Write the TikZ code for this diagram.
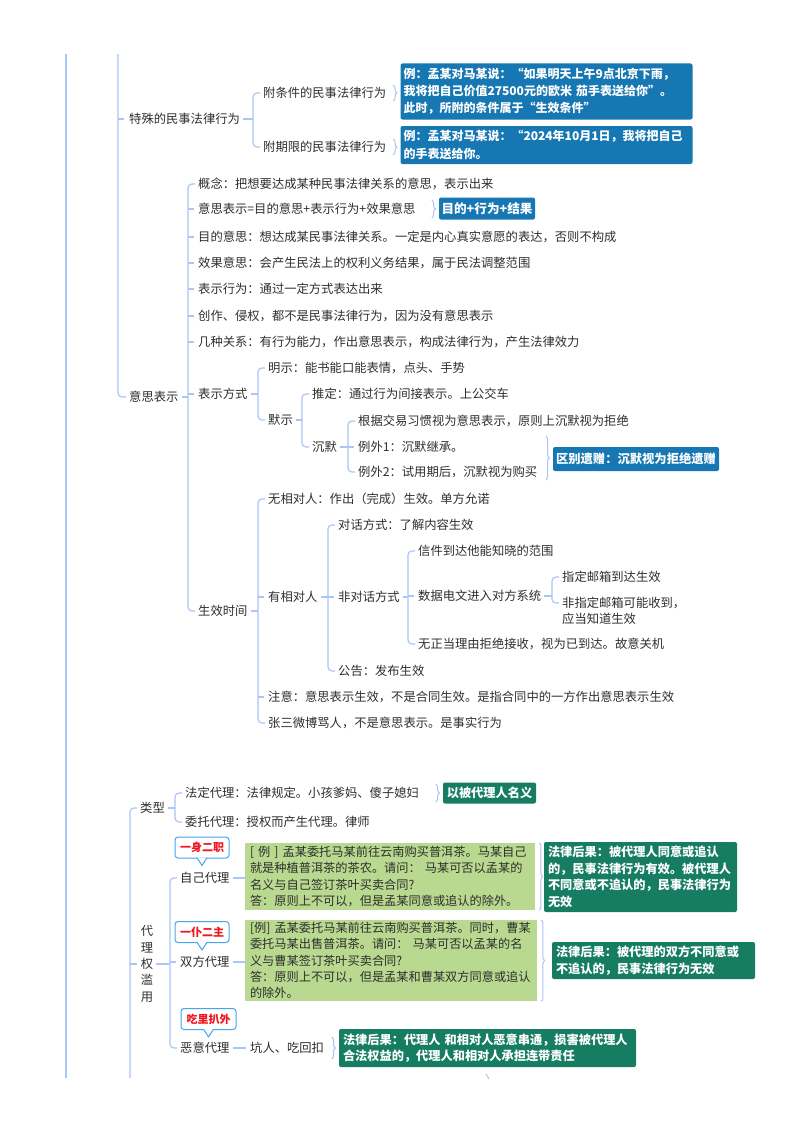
\documentclass[tikz,border=0pt]{standalone}
\usepackage{fontspec}
\setmainfont{Noto Sans CJK SC}
\usetikzlibrary{calc,decorations.pathreplacing}
\definecolor{lnc}{HTML}{A9C6F7}
\definecolor{tc}{HTML}{2E2E2E}
\definecolor{bbx}{HTML}{1677B3}
\definecolor{dgr}{HTML}{167D63}
\definecolor{lgr}{HTML}{B8D98F}
\definecolor{cob}{HTML}{45A6F0}
\definecolor{cred}{HTML}{F0141E}
\newcommand{\mybrk}[3]{%
  \draw[tree,rounded corners=4pt] ($(#1.west)+(-3,0)$) -- ($(#1.west)+(-10,0)$) -- ($(#2.west)+(-10,0)$) -- ($(#2.west)+(-3,0)$);
  \coordinate (bxx) at ($(#1.west)+(-10,0)$);
  \draw[tree] ($(#3.east)+(3,0)$) -- (bxx |- #3.east);}
\newcommand{\mytick}[1]{\draw[tree] ($(#1.west)+(-10,0)$) -- ($(#1.west)+(-4,0)$);}
\newcommand{\mypointer}[1]{\filldraw[draw=cob, fill=white, line width=1pt, line join=round] ($(#1.south)+(-5,-0.8)$) -- ($(#1.south)+(0,7)$) -- ($(#1.south)+(5,-0.8)$);}
\begin{document}
\begin{tikzpicture}[x=1pt,y=-1pt,
  tree/.style={draw=lnc, line width=1.2pt},
  brc/.style={draw=lnc, line width=1pt, decorate, decoration={brace, amplitude=3.5pt}},
  t/.style={anchor=west, inner sep=0pt, text=tc, font=\fontsize{12.3}{16}\selectfont},
  bbox/.style={fill=bbx, text=white, font=\bfseries\fontsize{12}{17.2}\selectfont, rounded corners=2pt, align=left, inner xsep=3pt, inner ysep=0pt},
  dbox/.style={fill=dgr, text=white, font=\bfseries\fontsize{12.2}{16.6}\selectfont, rounded corners=2pt, align=left, inner xsep=4pt, inner ysep=0pt},
  gbox/.style={fill=lgr, text=tc, font=\fontsize{12.2}{16.4}\selectfont, align=left, inner xsep=5pt, inner ysep=0pt},
  callout/.style={draw=cob, line width=1pt, fill=white, rounded corners=3pt, text=cred, font=\bfseries\fontsize{11}{13}\selectfont, inner sep=0pt, minimum height=21pt},
]
\fill[white, use as bounding box] (0,0) rectangle (800,1132);

% ---------- outer lines ----------
\coordinate (o1) at (66,54);
\coordinate (o2) at (66,1078);
\draw[tree] (o1) -- (o2);

% ---------- section 1 ----------
\node[t] (s1) at (129,119) {特殊的民事法律行为};
\node[t] (s2) at (129,397) {意思表示};
\coordinate (top2) at (118,54);
\draw[tree,rounded corners=4pt] (top2) -- (top2 |- s2.west) -- ($(s2.west)+(-3,0)$);
\draw[tree] (top2 |- s1.west) -- ($(s1.west)+(-5,0)$);

\node[t] (s1a) at (263,93) {附条件的民事法律行为};
\node[t] (s1b) at (263,147) {附期限的民事法律行为};
\mybrk{s1a}{s1b}{s1}
\node[bbox, text width=286pt, minimum height=56pt] (e1) at (546.5,91.5) {例：孟某对马某说：“如果明天上午9点北京下雨，\\我将把自己价值27500元的欧米 茄手表送给你”。\\此时，所附的条件属于“生效条件”};
\node[bbox, text width=286pt, minimum height=38pt] (e2) at (546.5,145) {例：孟某对马某说：“2024年10月1日，我将把自己\\的手表送给你。};
\draw[brc] ($(e1.west |- s1a.west)+(-7,-8)$) -- ($(e1.west |- s1a.west)+(-7,8)$);
\draw[brc] ($(e2.west |- s1b.west)+(-7,-8)$) -- ($(e2.west |- s1b.west)+(-7,8)$);

% children of 意思表示
\node[t] (c1) at (198,184) {概念：把想要达成某种民事法律关系的意思，表示出来};
\node[t] (c2) at (198,209) {意思表示=目的意思+表示行为+效果意思};
\node[t] (c3) at (198,237) {目的意思：想达成某民事法律关系。一定是内心真实意愿的表达，否则不构成};
\node[t] (c4) at (198,263) {效果意思：会产生民法上的权利义务结果，属于民法调整范围};
\node[t] (c5) at (198,289) {表示行为：通过一定方式表达出来};
\node[t] (c6) at (198,316) {创作、侵权，都不是民事法律行为，因为没有意思表示};
\node[t] (c7) at (198,342) {几种关系：有行为能力，作出意思表示，构成法律行为，产生法律效力};
\node[t] (c8) at (198,394) {表示方式};
\node[t] (c9) at (198,611) {生效时间};
\mybrk{c1}{c9}{s2}
\mytick{c2}\mytick{c3}\mytick{c4}\mytick{c5}\mytick{c6}\mytick{c7}\mytick{c8}
\node[bbox, minimum width=96pt, minimum height=22pt, inner xsep=0pt, font=\bfseries\fontsize{12.6}{15}\selectfont] (mb) at (487,208.5) {目的+行为+结果};
\draw[brc] ($(mb.west |- c2.west)+(-7,-9)$) -- ($(mb.west |- c2.west)+(-7,9)$);

% 表示方式
\node[t] (m1) at (268,368) {明示：能书能口能表情，点头、手势};
\node[t] (m2) at (268,420) {默示};
\mybrk{m1}{m2}{c8}
\node[t] (d1) at (312,394) {推定：通过行为间接表示。上公交车};
\node[t] (d2) at (312,447) {沉默};
\mybrk{d1}{d2}{m2}
\node[t] (q1) at (358,421) {根据交易习惯视为意思表示，原则上沉默视为拒绝};
\node[t] (q2) at (358,447) {例外1：沉默继承。};
\node[t] (q3) at (358,472) {例外2：试用期后，沉默视为购买};
\mybrk{q1}{q3}{d2}
\mytick{q2}
\node[bbox, minimum width=166pt, minimum height=24pt, inner xsep=0pt, font=\bfseries\fontsize{12.3}{15}\selectfont] (qb) at (636,459) {区别遗赠：沉默视为拒绝遗赠};
\draw[brc] ($(qb.west)+(-7,-23)$) -- ($(qb.west)+(-7,21)$);

% 生效时间
\node[t] (f1) at (268,499) {无相对人：作出（完成）生效。单方允诺};
\node[t] (f2) at (268,597) {有相对人};
\node[t] (f3) at (268,697) {注意：意思表示生效，不是合同生效。是指合同中的一方作出意思表示生效};
\node[t] (f4) at (268,723) {张三微博骂人，不是意思表示。是事实行为};
\mybrk{f1}{f4}{c9}
\mytick{f2}\mytick{f3}
\node[t] (g1) at (338,525) {对话方式：了解内容生效};
\node[t] (g2) at (338,597) {非对话方式};
\node[t] (g3) at (338,671) {公告：发布生效};
\mybrk{g1}{g3}{f2}
\mytick{g2}
\node[t] (h1) at (418,551) {信件到达他能知晓的范围};
\node[t] (h2) at (418,596) {数据电文进入对方系统};
\node[t] (h3) at (418,644) {无正当理由拒绝接收，视为已到达。故意关机};
\mybrk{h1}{h3}{g2}
\mytick{h2}
\node[t] (k1) at (562,577) {指定邮箱到达生效};
\node[t] (k2) at (562,603) {非指定邮箱可能收到，};
\node[t] (k3) at (562,619) {应当知道生效};
\mybrk{k1}{k2}{h2}

% ---------- section 2 ----------
\coordinate (b0) at (130,1078);
\node[t] (t0) at (140,808) {类型};
\node[t, anchor=center, align=center, font=\fontsize{12.3}{16.3}\selectfont] (t1) at (147,964) {代\\理\\权\\滥\\用};
\draw[tree,rounded corners=4pt] ($(t0.west)+(-3,0)$) -- (b0 |- t0.west) -- (b0);
\draw[tree] (b0 |- t1.west) -- ($(t1.west)+(-4,0)$);

\node[t] (u1) at (185,793) {法定代理：法律规定。小孩爹妈、傻子媳妇};
\node[t] (u2) at (185,822) {委托代理：授权而产生代理。律师};
\mybrk{u1}{u2}{t0}
\node[dbox, minimum width=93pt, minimum height=21pt, inner xsep=0pt] (ub) at (489.5,793) {以被代理人名义};
\draw[brc] ($(ub.west)+(-7,-9)$) -- ($(ub.west)+(-7,9)$);

\node[t] (v1) at (180,878) {自己代理};
\node[t] (v2) at (180,962) {双方代理};
\node[t] (v3) at (180,1048) {恶意代理};
\mybrk{v1}{v3}{t1}
\mytick{v2}

\node[callout, minimum width=54pt] (cb1) at (202,847.5) {一身二职};
\mypointer{cb1}
\node[callout, minimum width=54pt] (cb2) at (202,932) {一仆二主};
\mypointer{cb2}
\node[callout, minimum width=55pt] (cb3) at (208.5,1019) {吃里扒外};
\mypointer{cb3}

\node[gbox, text width=280pt, minimum height=67pt] (gb1) at (390,876.5) {[ 例 ] 孟某委托马某前往云南购买普洱茶。马某自己\\就是种植普洱茶的茶农。请问： 马某可否以孟某的\\名义与自己签订茶叶买卖合同?\\答：原则上不可以，但是孟某同意或追认的除外。};
\node[gbox, text width=282pt, minimum height=81pt] (gb2) at (391,960.5) {[例] 孟某委托马某前往云南购买普洱茶。同时，曹某\\委托马某出售普洱茶。请问： 马某可否以孟某的名\\义与曹某签订茶叶买卖合同?\\答：原则上不可以，但是孟某和曹某双方同意或追认\\的除外。};
\draw[tree] ($(v1.east)+(3,0)$) -- (gb1.west |- v1.east);
\draw[tree] ($(v2.east)+(3,0)$) -- (gb2.west |- v2.east);

\node[dbox, text width=185pt, minimum height=70pt] (db1) at (640.5,877) {法律后果：被代理人同意或追认\\的，民事法律行为有效。被代理人\\不同意或不追认的，民事法律行为\\无效};
\node[dbox, text width=195pt, minimum height=37pt] (db2) at (653.5,960.5) {法律后果：被代理的双方不同意或\\不追认的，民事法律行为无效};
\draw[brc] ($(gb1.north east)+(4,0)$) -- ($(gb1.south east)+(4,0)$);
\draw[brc] ($(gb2.north east)+(4,0)$) -- ($(gb2.south east)+(4,0)$);

\node[t] (w3) at (250,1048) {坑人、吃回扣};
\draw[tree] ($(v3.east)+(3,0)$) -- ($(w3.west)+(-4,0)$);
\node[dbox, text width=289pt, minimum height=38pt] (db3) at (487.5,1048) {法律后果：代理人 和相对人恶意串通，损害被代理人\\合法权益的，代理人和相对人承担连带责任};
\draw[brc] ($(db3.west)+(-7,-11)$) -- ($(db3.west)+(-7,11)$);

% fragment at bottom
\coordinate (fr1) at (486,1074);
\coordinate (fr2) at (489,1079);
\draw[draw=lnc, line width=1pt] (fr1) -- (fr2);
\end{tikzpicture}
\end{document}
